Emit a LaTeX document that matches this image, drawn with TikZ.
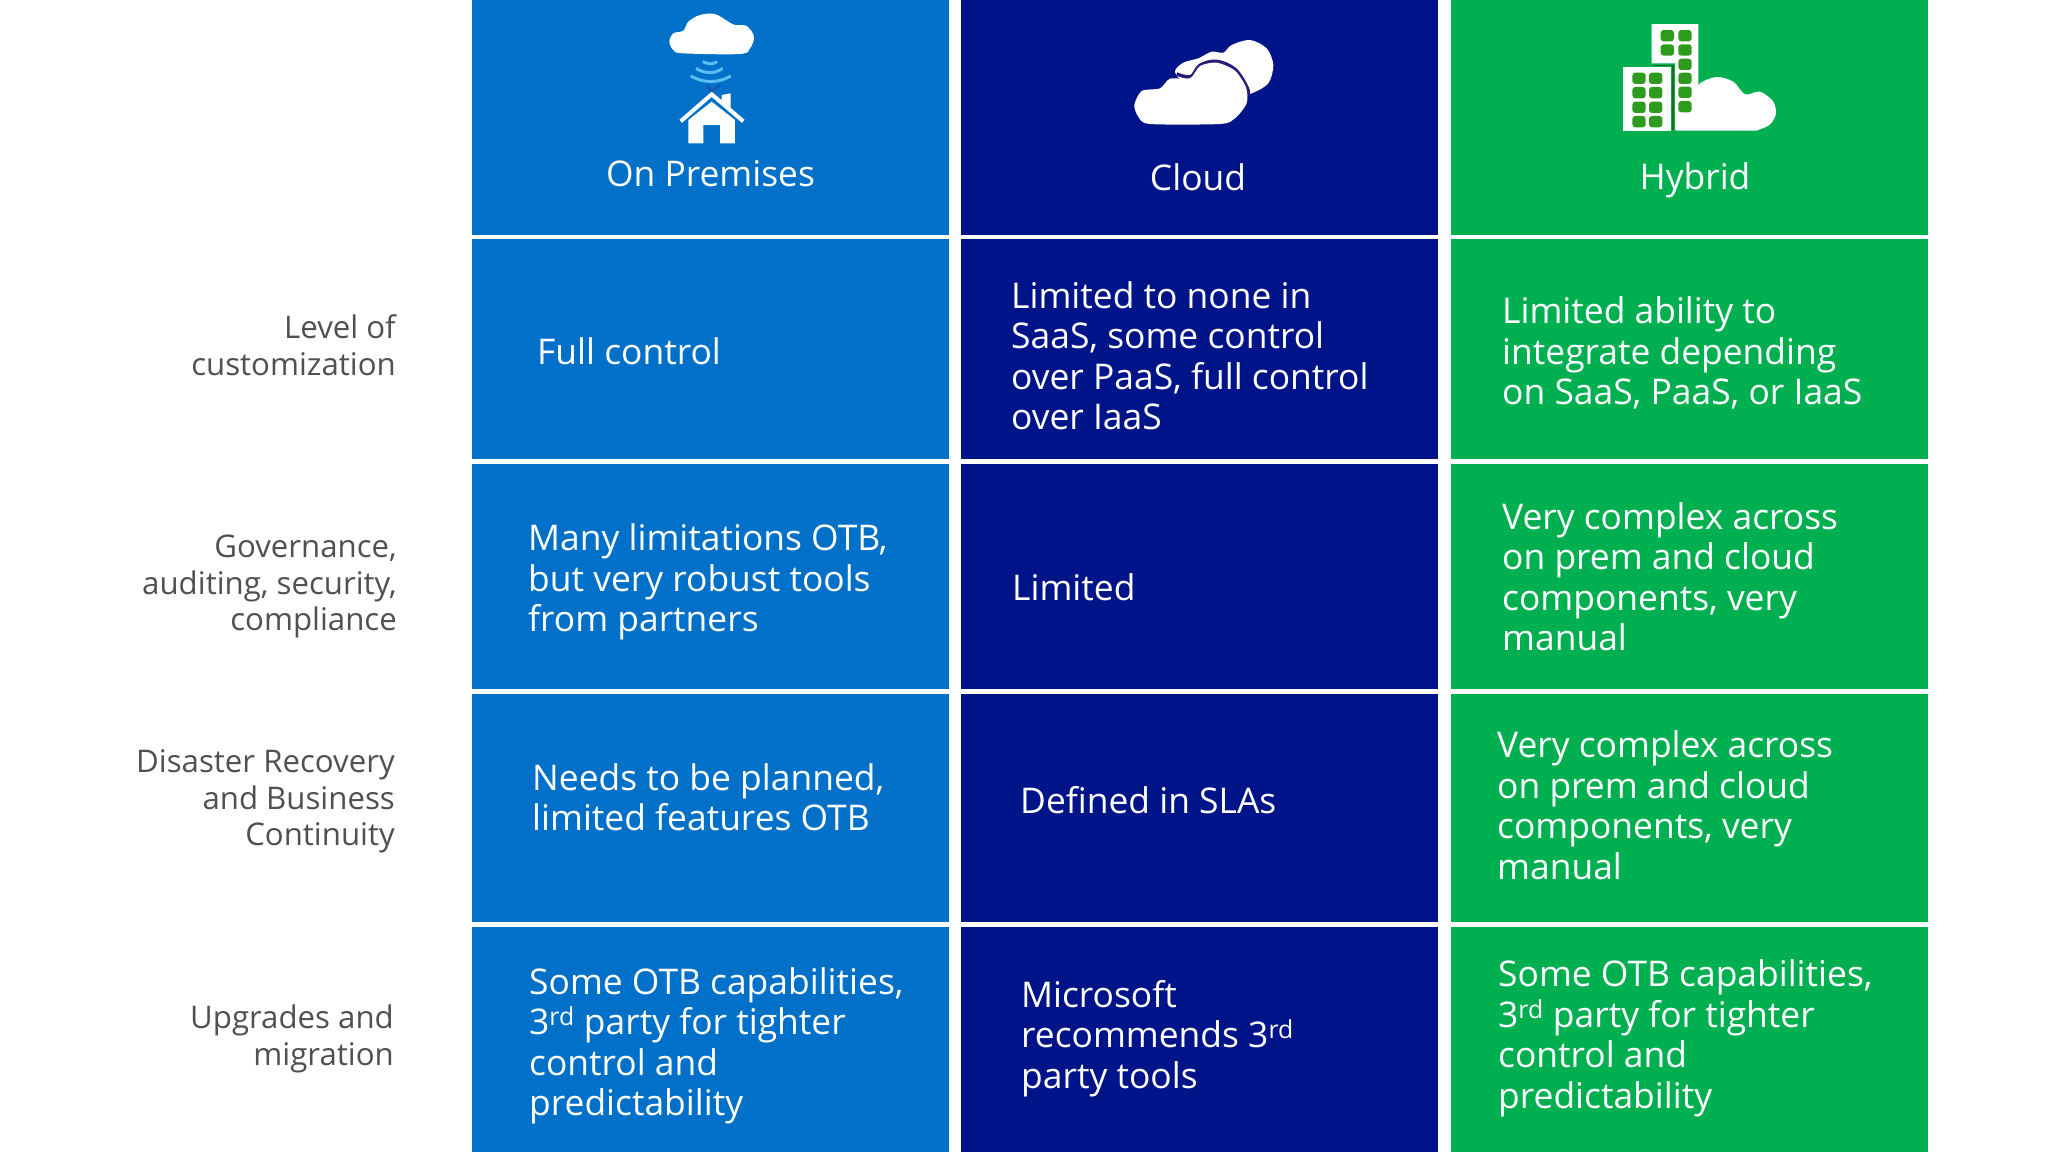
\documentclass[tikz,border=0pt]{standalone}
\usepackage{fontspec}
\setmainfont{Open Sans}
\definecolor{cblue}{HTML}{0070C8}
\definecolor{cnavy}{HTML}{00148A}
\definecolor{cgreen}{HTML}{00B050}
\definecolor{cgrey}{HTML}{505050}
\definecolor{wingreen}{HTML}{2E9A1E}
\definecolor{wave}{HTML}{5CBDF2}
\definecolor{wavedark}{HTML}{1A4FA0}
\definecolor{cloudline}{HTML}{2B1B78}
\tikzset{
 body/.style={inner sep=0,anchor=west,align=left,text=white,font=\fontsize{35.4}{40.5}\selectfont},
 head/.style={inner sep=0,anchor=center,text=white,font=\fontsize{35.4}{40.5}\selectfont},
 side/.style={inner sep=0,anchor=east,align=right,text=cgrey,font=\fontsize{31.2}{36.5}\selectfont},
 win/.style={fill=wingreen,rounded corners=3pt}
}
\begin{document}
\begin{tikzpicture}[x=1pt,y=-1pt]
\useasboundingbox (0,0) rectangle (2048,1152);
\fill[white] (0,0) rectangle (2048,1152);
% cells
\foreach \xa/\xb/\c in {472/949/cblue,961/1438/cnavy,1450.7/1928/cgreen}{
 \fill[\c] (\xa,0) rectangle (\xb,235);
 \fill[\c] (\xa,239) rectangle (\xb,459);
 \fill[\c] (\xa,463.7) rectangle (\xb,689);
 \fill[\c] (\xa,693.7) rectangle (\xb,922);
 \fill[\c] (\xa,927) rectangle (\xb,1152);
}
% headers
\node[head] (h1) at (710.5,174) {On Premises};
\node[head] (h2) at (1198,177) {Cloud};
\node[head] (h3) at (1695,180) {Hybrid};
% side labels
\node[side] (s1) at (396,345) {Level of\\customization};
\node[side] (s2) at (397,586.5) {Governance,\\auditing, security,\\compliance};
\node[side] (s3) at (395,801.5) {Disaster Recovery\\and Business\\Continuity};
\node[side] (s4) at (394,1039) {Upgrades and\\migration};
% column 1
\node[body] (a1) at (537,351) {Full control};
\node[body] (a2) at (528,582) {Many limitations OTB,\\but very robust tools\\from partners};
\node[body] (a3) at (532,797) {Needs to be planned,\\limited features OTB};
\node[body] (a4) at (529,1046) {Some OTB capabilities,\\3\textsuperscript{rd} party for tighter\\control and\\predictability};
% column 2
\node[body] (b1) at (1011,355.5) {Limited to none in\\SaaS, some control\\over PaaS, full control\\over IaaS};
\node[body] (b2) at (1012,587) {Limited};
\node[body] (b3) at (1020,800) {Defined in SLAs};
\node[body] (b4) at (1021,1038.5) {Microsoft\\recommends 3\textsuperscript{rd}\\party tools};
% column 3
\node[body] (c1) at (1502,353) {Limited ability to\\integrate depending\\on SaaS, PaaS, or IaaS};
\node[body] (c2) at (1502,576.5) {Very complex across\\on prem and cloud\\components, very\\manual};
\node[body] (c3) at (1497,805) {Very complex across\\on prem and cloud\\components, very\\manual};
\node[body] (c4) at (1498,1038.5) {Some OTB capabilities,\\3\textsuperscript{rd} party for tighter\\control and\\predictability};
% icon: on premises
\begin{scope}[shift={(640,0)},x=0.3333pt,y=-0.3333pt]
 \fill[white] plot[smooth cycle,tension=0.55] coordinates {(88,125)(100,100)(130,92)(145,65)(180,45)(225,42)(265,65)(285,75)(320,78)(342,110)(330,145)(300,162)(130,160)(100,150)};
 \draw[wave,line width=3pt] (188,185) .. controls (205,193) and (220,193) .. (232,185);
 \draw[wave,line width=3pt] (168,205) .. controls (195,222) and (225,222) .. (248,205);
 \draw[wave,line width=3pt] (152,228) .. controls (190,250) and (235,250) .. (272,228);
 \draw[wavedark,line width=1.6pt] (200,255) -- (215,275) -- (240,255);
 \fill[white] (145,360) -- (215,305) -- (285,360) -- (285,430) -- (240,430) -- (240,375) -- (190,375) -- (190,430) -- (145,430) -- cycle;
 \draw[white,line width=4pt] (122,364) -- (215,283) -- (310,364);
 \fill[white] (245,305) -- (245,285) -- (272,280) -- (272,330) -- cycle;
\end{scope}
% icon: cloud
\begin{scope}[shift={(1120,30)},x=0.3333pt,y=-0.3333pt]
 \fill[white] plot[smooth cycle,tension=0.5] coordinates {(395,190)(445,160)(460,105)(440,55)(390,30)(335,45)(310,68)(275,65)(235,85)(190,98)(165,125)(200,160)(340,200)};
 \draw[cloudline,line width=3.4pt] plot[smooth,tension=0.6] coordinates {(170,132)(212,140)(240,106)(290,94)(345,118)(381,172)(385,195)};
 \fill[white] plot[smooth cycle,tension=0.45] coordinates {(43,225)(65,183)(120,175)(150,146)(210,145)(240,108)(290,98)(345,122)(378,172)(380,220)(345,265)(300,282)(90,282)(55,260)};
\end{scope}
% icon: hybrid
\begin{scope}[shift={(1610,15)},x=0.3333pt,y=-0.3333pt]
 \fill[white] (125,27) -- (265,27) -- (265,345) -- (195,345) -- (195,145) -- (125,145) -- cycle;
 \fill[white] (40,157) rectangle (182,348);
 \draw[wingreen!70!black,line width=1.2pt] (130,151) -- (189,151) -- (189,345);
 \fill[white] plot[smooth cycle,tension=0.5] coordinates {(215,330)(240,250)(270,205)(320,186)(370,200)(405,238)(450,230)(490,260)(497,300)(470,335)(400,335)};
 \fill[white] (198,300) -- (450,300) -- (470,335) -- (440,347) -- (198,347) -- cycle;
 \foreach \x/\y in {172/62,225/62,172/105,225/105,225/148,225/190,225/232,225/275,87/190,137/190,87/233,137/233,87/277,137/277,87/320,137/320}{
  \fill[win] (\x-20,\y-17) rectangle (\x+20,\y+17);
 }
\end{scope}
\end{tikzpicture}
\end{document}
